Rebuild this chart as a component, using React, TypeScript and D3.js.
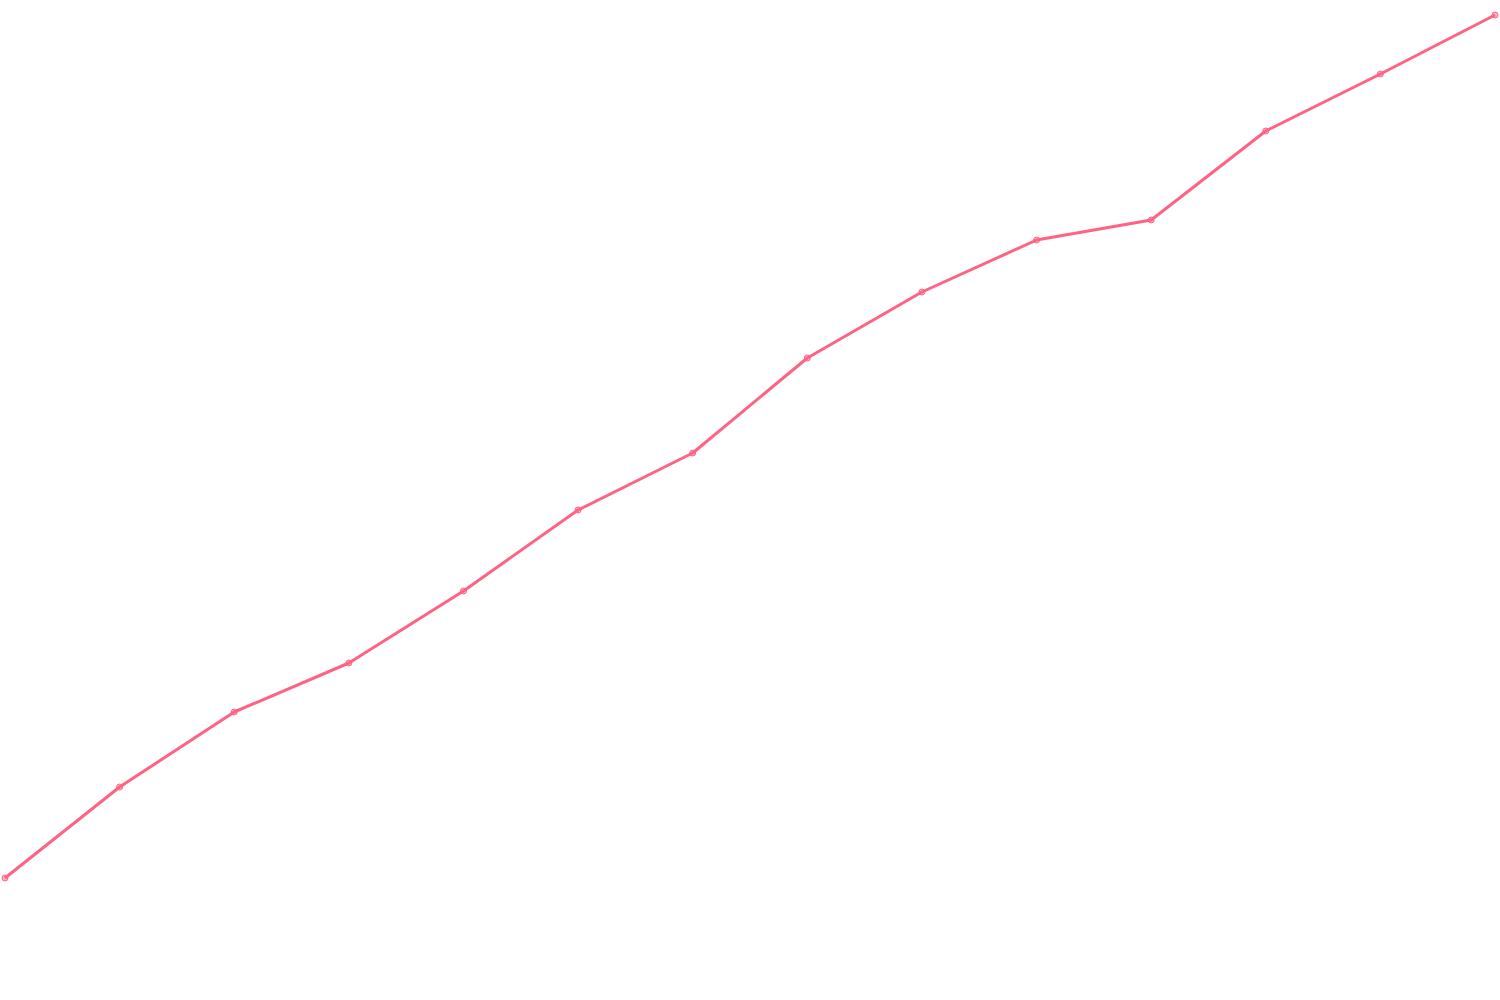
import { useEffect, useRef } from 'react';
import * as d3 from 'd3';

const labels = ['1', '2', '3', '4', '5', '6', '7', '8', '9', '10', '11', '12', '13', '14'];
const values = [12.2, 21.3, 28.8, 33.7, 40.9, 49.0, 54.7, 64.2, 70.8, 76.0, 78.0, 86.9, 92.6, 98.5];

const LINE = '#ff6384';

export default function App() {
    const svgRef = useRef<SVGSVGElement>(null);
    const width  = 1500;
    const height = 1000;

    useEffect(() => {
        if (!svgRef.current) return;
        const svg = d3.select(svgRef.current);
        svg.selectAll('*').remove();

        const x = d3.scalePoint<string>().domain(labels).range([5, width - 5]);
        const y = d3.scaleLinear().domain([0, 100]).range([height, 0]);

        const line = d3.line<number>()
            .x((_, i) => x(labels[i])!)
            .y(d => y(d));

        svg.append('path')
            .datum(values)
            .attr('fill', 'none')
            .attr('stroke', LINE)
            .attr('stroke-width', 3)
            .attr('stroke-linejoin', 'round')
            .attr('d', line);

        svg.selectAll('circle')
            .data(values)
            .join('circle')
            .attr('cx', (_, i) => x(labels[i])!)
            .attr('cy', d => y(d))
            .attr('r', 3)
            .attr('fill', 'rgba(255,99,132,0.5)')
            .attr('stroke', LINE)
            .attr('stroke-width', 1);
    }, []);

    return (
        <svg ref={svgRef} width={width} height={height}
            style={{ position: 'absolute', left: 0, top: 0, background: '#fff' }} />
    );
}
